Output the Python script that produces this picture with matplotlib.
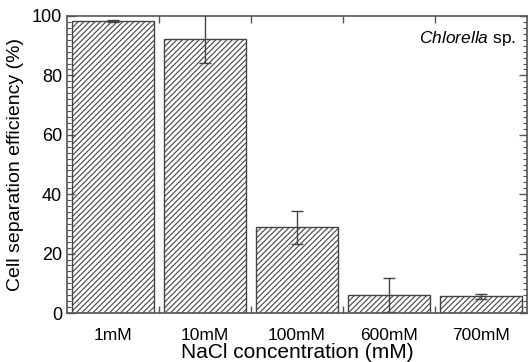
import matplotlib
matplotlib.use("Agg")
import matplotlib.pyplot as plt
import numpy as np
from matplotlib.ticker import MultipleLocator, FixedLocator

plt.rcParams['font.family'] = ['Liberation Sans', 'DejaVu Sans']
plt.rcParams['mathtext.fontset'] = 'custom'
plt.rcParams['mathtext.rm'] = 'Liberation Sans'
plt.rcParams['mathtext.it'] = 'Liberation Sans:italic'
plt.rcParams['hatch.color'] = '#555555'
plt.rcParams['hatch.linewidth'] = 0.8

# data
labels = ["1mM", "10mM", "100mM", "600mM", "700mM"]
efficiency = [98.4, 92.3, 28.9, 6.0, 5.6]
errors = [0.4, 8.0, 5.6, 5.7, 0.9]

fig = plt.figure(figsize=(5.29, 3.62), dpi=100)
ax = fig.add_axes([67 / 529, 1 - 313 / 362, 460 / 529, 297 / 362])

x = np.arange(len(labels))
ax.bar(x, efficiency, width=0.89, color='white', edgecolor='#444444',
       linewidth=1.0, hatch='//////')
ax.errorbar(x, efficiency, yerr=errors, fmt='none', ecolor='#444444',
            elinewidth=1.0, capsize=4, capthick=1.0)

ax.set_xlim(-0.5, 4.5)
ax.set_ylim(0, 100)

ax.set_xticks(x)
ax.set_xticklabels(labels, fontsize=12.5)
ax.xaxis.set_minor_locator(FixedLocator(x[:-1] + 0.5))
ax.tick_params(axis='x', which='major', length=0, pad=11)
ax.tick_params(axis='x', which='minor', direction='in', top=True,
               bottom=True, length=5, width=1, color='#555555')

ax.yaxis.set_major_locator(MultipleLocator(20))
ax.yaxis.set_minor_locator(MultipleLocator(2))
ax.tick_params(axis='y', which='major', direction='in', left=True,
               right=True, length=6, width=1, color='#555555', labelsize=13)
ax.tick_params(axis='y', which='minor', direction='in', left=True,
               right=True, length=3, width=0.8, color='#555555')

for s in ax.spines.values():
    s.set_color('#555555')
    s.set_linewidth(1.2)

ax.set_xlabel("NaCl concentration (mM)", fontsize=15, labelpad=0)
ax.set_ylabel("Cell separation efficiency (%)", fontsize=14, labelpad=6)

ax.text(0.975, 0.955, r"$\mathit{Chlorella}$ sp.", transform=ax.transAxes,
        ha='right', va='top', fontsize=12.5)

fig.savefig("out.png", dpi=100)
